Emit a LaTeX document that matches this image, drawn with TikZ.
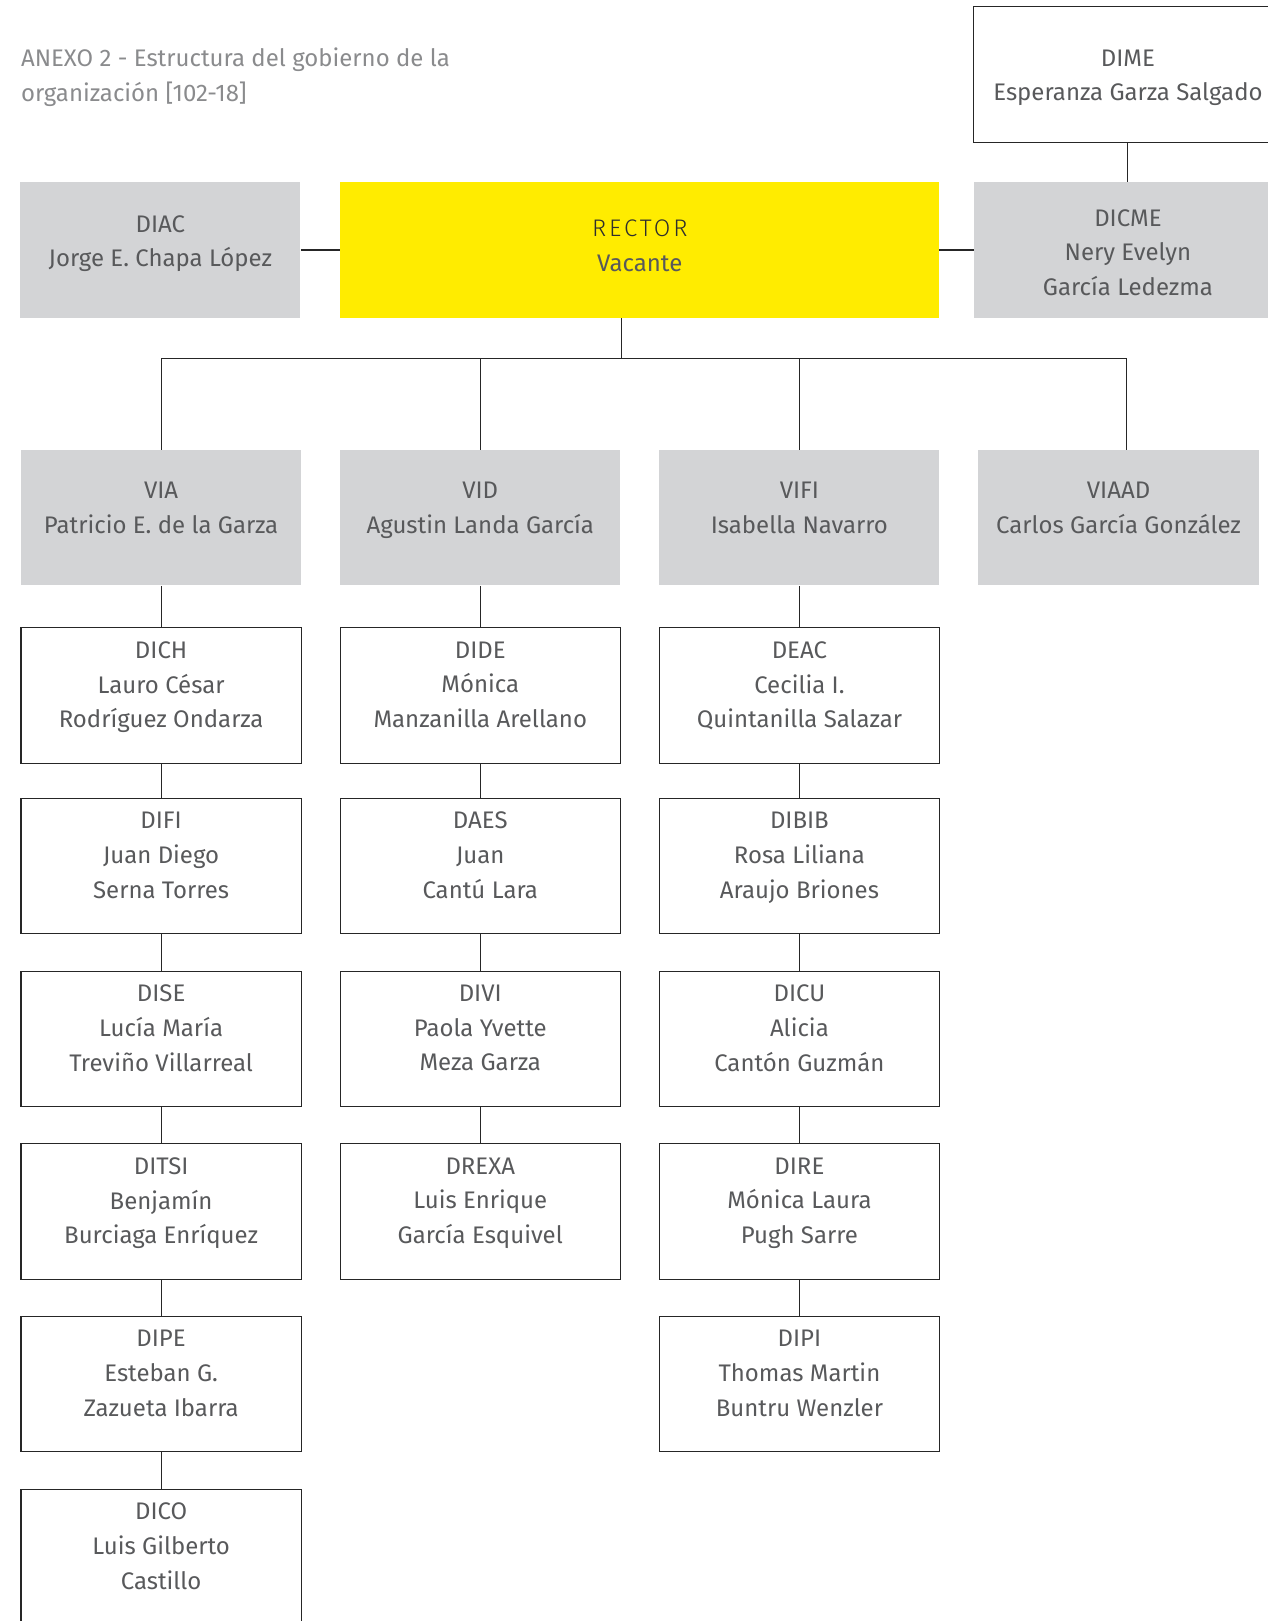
\documentclass[tikz,border=0pt]{standalone}
\usepackage{fontspec}
\setmainfont{Fira Sans}
\newfontfamily\thinfont{Fira Sans Light}
\usepackage{xcolor}
\usetikzlibrary{positioning}

\definecolor{graybox}{HTML}{D3D4D6}
\definecolor{rectoryellow}{HTML}{FFEC00}
\definecolor{textgray}{HTML}{58595B}
\definecolor{titlegray}{HTML}{8A8B8D}
\definecolor{rectordark}{HTML}{2E2E2E}
\definecolor{linegray}{HTML}{262626}

\newcommand{\sinkby}[1]{\rule{0pt}{#1}}

\begin{document}
\begin{tikzpicture}[
  node distance=7mm and 7.4mm,
  lift/.style={execute at end node={\rule[-#1]{0pt}{0pt}}},
  unit/.style={align=center, minimum width=54.2mm, minimum height=26.2mm, inner sep=0pt,
    text=textgray, font=\fontsize{13.2}{19.1}\selectfont},
  vpbox/.style={unit, fill=graybox, lift=3.8mm},
  dirbox/.style={unit, draw=linegray, line width=0.6pt, lift=4.2mm},
  link/.style={draw=linegray, line width=0.6pt}
]
\useasboundingbox (0,0) rectangle (245.2mm,-313.6mm);

% title
\node[anchor=north west, align=left, inner sep=0pt, text=titlegray,
  font=\fontsize{13.2}{19.1}\selectfont] (title) at (4mm,-9.2mm)
  {ANEXO 2 - Estructura del gobierno de la\\organización [102-18]};

% top row
\node[unit, fill=rectoryellow, minimum width=115.8mm, lift=1.6mm, anchor=north west] (rector) at (65.8mm,-35.2mm)
  {{\thinfont\addfontfeature{LetterSpace=12}\color{rectordark}RECTOR}\\Vacante};
\node[unit, fill=graybox, lift=3.4mm, left=7.6mm of rector] (diac) {DIAC\\Jorge E. Chapa López};
\node[unit, fill=graybox, minimum width=59.6mm, right=6.6mm of rector] (dicme) {\sinkby{4.3mm}DICME\\Nery Evelyn\\García Ledezma};
\node[unit, draw=linegray, line width=0.6pt, minimum width=59.6mm, above=7.6mm of dicme] (dime) {\sinkby{4.5mm}DIME\\Esperanza Garza Salgado};

% vice rectors
\node[vpbox, anchor=north west] (via) at (4mm,-87mm) {VIA\\Patricio E. de la Garza};
\node[vpbox, right=of via] (vid) {VID\\Agustin Landa García};
\node[vpbox, right=of vid] (vifi) {VIFI\\Isabella Navarro};
\node[vpbox, right=of vifi] (viaad) {VIAAD\\Carlos García González};

% VIA
\node[dirbox, below=8mm of via] (dich) {DICH\\Lauro César\\Rodríguez Ondarza};
\node[dirbox, below=6.6mm of dich] (difi) {DIFI\\Juan Diego\\Serna Torres};
\node[dirbox, below=of difi] (dise) {DISE\\Lucía María\\Treviño Villarreal};
\node[dirbox, below=of dise] (ditsi) {DITSI\\Benjamín\\Burciaga Enríquez};
\node[dirbox, below=of ditsi] (dipe) {DIPE\\Esteban G.\\Zazueta Ibarra};
\node[dirbox, below=of dipe] (dico) {DICO\\Luis Gilberto\\Castillo};

% VID
\node[dirbox, below=8mm of vid] (dide) {DIDE\\Mónica\\Manzanilla Arellano};
\node[dirbox, below=6.6mm of dide] (daes) {DAES\\Juan\\Cantú Lara};
\node[dirbox, below=of daes] (divi) {DIVI\\Paola Yvette\\Meza Garza};
\node[dirbox, below=of divi] (drexa) {DREXA\\Luis Enrique\\García Esquivel};

% VIFI
\node[dirbox, below=8mm of vifi] (deac) {DEAC\\Cecilia I.\\Quintanilla Salazar};
\node[dirbox, below=6.6mm of deac] (dibib) {DIBIB\\Rosa Liliana\\Araujo Briones};
\node[dirbox, below=of dibib] (dicu) {DICU\\Alicia\\Cantón Guzmán};
\node[dirbox, below=of dicu] (dire) {DIRE\\Mónica Laura\\Pugh Sarre};
\node[dirbox, below=of dire] (dipi) {DIPI\\Thomas Martin\\Buntru Wenzler};

% connectors
\draw[link] (diac) -- (rector);
\draw[link] (rector) -- (dicme);
\draw[link] (dime) -- (dicme);

\coordinate (bus) at ([xshift=-3.5mm, yshift=-7.8mm]rector.south);
\draw[link] ([xshift=-3.5mm]rector.south) -- (bus);
\draw[link] (via.north) |- (bus) -| ([xshift=1.5mm]viaad.north);
\draw[link] (vid.north) -- (vid.north |- bus);
\draw[link] (vifi.north) -- (vifi.north |- bus);

\draw[link] (via) -- (dich);
\draw[link] (dich) -- (difi);
\draw[link] (difi) -- (dise);
\draw[link] (dise) -- (ditsi);
\draw[link] (ditsi) -- (dipe);
\draw[link] (dipe) -- (dico);

\draw[link] (vid) -- (dide);
\draw[link] (dide) -- (daes);
\draw[link] (daes) -- (divi);
\draw[link] (divi) -- (drexa);

\draw[link] (vifi) -- (deac);
\draw[link] (deac) -- (dibib);
\draw[link] (dibib) -- (dicu);
\draw[link] (dicu) -- (dire);
\draw[link] (dire) -- (dipi);
\end{tikzpicture}
\end{document}
